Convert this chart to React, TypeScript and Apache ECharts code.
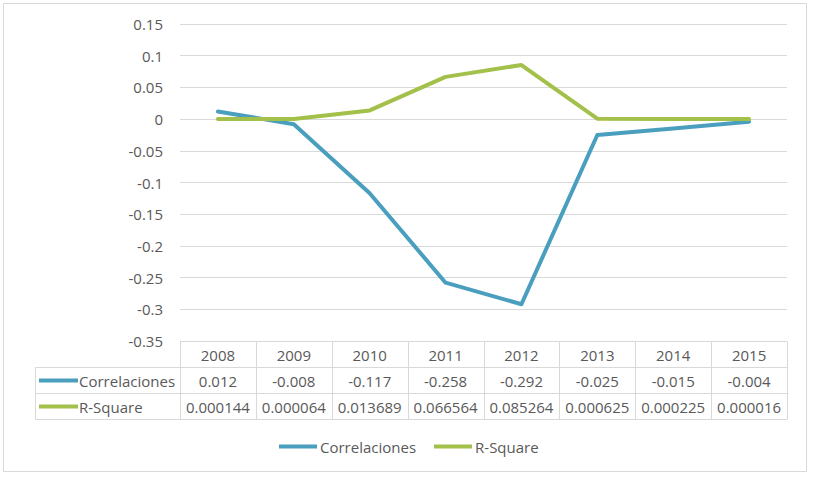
import React, { useEffect, useRef } from "react";
import * as echarts from "echarts";

const years = ["2008", "2009", "2010", "2011", "2012", "2013", "2014", "2015"];
const correlaciones = [0.012, -0.008, -0.117, -0.258, -0.292, -0.025, -0.015, -0.004];
const rSquare = [0.000144, 0.000064, 0.013689, 0.066564, 0.085264, 0.000625, 0.000225, 0.000016];
const corrLabels = ["0.012", "-0.008", "-0.117", "-0.258", "-0.292", "-0.025", "-0.015", "-0.004"];
const rsqLabels = ["0.000144", "0.000064", "0.013689", "0.066564", "0.085264", "0.000625", "0.000225", "0.000016"];
const seriesNames = ["Correlaciones", "R-Square"];
const yMin = -0.35;
const yMax = 0.15;
const yStep = 0.05;

const BLUE = "#4A9EBE";
const GREEN = "#A3C04A";
const GRID = "#D9D9D9";
const TEXT = "#595959";
const FONT = "'Open Sans', sans-serif";
const FS = 15;

export default function App() {
  const ref = useRef<HTMLDivElement>(null);
  useEffect(() => {
    if (!ref.current) return;
    const chart = echarts.init(ref.current, null, { renderer: "svg" });
    chart.setOption({
      animation: false,
      backgroundColor: "#fff",
      color: [BLUE, GREEN],
      grid: { left: 180, right: 26, top: 24, bottom: 137 },
      xAxis: {
        type: "category",
        data: years,
        boundaryGap: true,
        axisLine: { show: false },
        axisTick: { show: false },
        axisLabel: { show: false },
      },
      yAxis: {
        type: "value",
        min: yMin,
        max: yMax,
        interval: yStep,
        axisLine: { show: false },
        axisTick: { show: false },
        splitLine: { lineStyle: { color: GRID, width: 1 } },
        axisLabel: {
          margin: 17,
          color: TEXT,
          fontSize: FS,
          fontFamily: FONT,
          formatter: (v: number) => String(Number(v.toFixed(2))),
        },
      },
      legend: {
        left: 274,
        top: 434,
        icon: "rect",
        itemWidth: 38,
        itemHeight: 4,
        itemGap: 18,
        textStyle: { color: TEXT, fontSize: FS, fontFamily: FONT, padding: [0, 0, 0, -2] },
        data: seriesNames,
      },
      series: [
        {
          name: seriesNames[0],
          type: "line",
          data: correlaciones,
          symbol: "none",
          lineStyle: { width: 4, color: BLUE, cap: "round", join: "round" },
        },
        {
          name: seriesNames[1],
          type: "line",
          data: rSquare,
          symbol: "none",
          lineStyle: { width: 4, color: GREEN, cap: "round", join: "round" },
        },
      ],
    });

    const xa = chart.convertToPixel({ xAxisIndex: 0 }, years[0]) as number;
    const xb = chart.convertToPixel({ xAxisIndex: 0 }, years[1]) as number;
    const band = xb - xa;
    const left = xa - band / 2;
    const right = left + band * years.length;
    const top = Math.round(chart.convertToPixel({ yAxisIndex: 0 }, yMin) as number) + 0.5;
    const rowH = 26;
    const labelLeft = 35.5;
    const els: any[] = [];
    const line = (x1: number, y1: number, x2: number, y2: number) =>
      els.push({ type: "line", silent: true, shape: { x1, y1, x2, y2 }, style: { stroke: GRID, lineWidth: 1 } });
    const text = (t: string, x: number, y: number, align = "center") =>
      els.push({
        type: "text",
        silent: true,
        x,
        y,
        style: { text: t, fill: TEXT, fontSize: FS, fontFamily: FONT, align, verticalAlign: "middle" },
      });
    line(left, top, right, top);
    for (let r = 1; r <= 3; r++) line(labelLeft, top + rowH * r, right, top + rowH * r);
    line(labelLeft, top + rowH, labelLeft, top + rowH * 3);
    for (let i = 0; i <= years.length; i++) {
      const x = Math.round(left + band * i) + 0.5;
      line(x, top, x, top + rowH * 3);
    }
    years.forEach((y, i) => {
      const cx = chart.convertToPixel({ xAxisIndex: 0 }, y) as number;
      text(y, cx, top + rowH * 0.5);
      text(corrLabels[i], cx, top + rowH * 1.5);
      text(rsqLabels[i], cx, top + rowH * 2.5);
    });
    const rowColors = [BLUE, GREEN];
    seriesNames.forEach((n, k) => {
      const cy = top + rowH * (1.5 + k);
      els.push({ type: "rect", silent: true, shape: { x: 39, y: cy - 2, width: 39, height: 4 }, style: { fill: rowColors[k] } });
      text(n, 79, cy, "left");
    });
    els.push({
      type: "rect",
      silent: true,
      shape: { x: 3.5, y: 3.5, width: 803, height: 468 },
      style: { fill: "none", stroke: GRID, lineWidth: 1 },
    });
    chart.setOption({ graphic: { elements: els } });

    return () => chart.dispose();
  }, []);
  return (
    <div
      ref={ref}
      style={{ position: "absolute", left: 0, top: 0, width: 813, height: 478 }}
    />
  );
}
